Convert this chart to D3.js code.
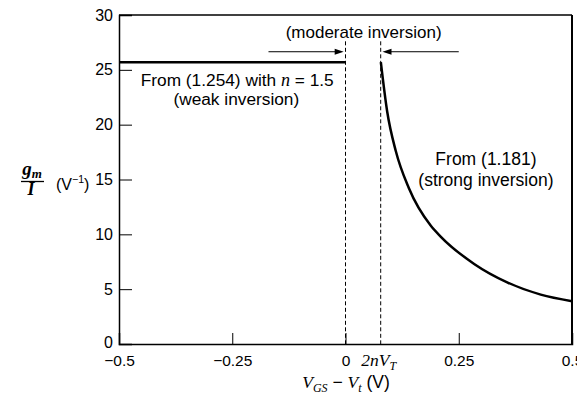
<!DOCTYPE html>
<html>
<head>
<meta charset="utf-8">
<script src="https://cdn.jsdelivr.net/npm/d3@7"></script>
<style>
  html, body { margin: 0; padding: 0; background: #fff; }
  svg { display: block; }
  .sans { font-family: "Liberation Sans", Arial, Helvetica, sans-serif; }
  .math { font-family: "Liberation Serif", "Times New Roman", serif; font-style: italic; }
</style>
</head>
<body>
<svg id="chart" width="577" height="395"></svg>
<script>
// ---- data ----
const xTickValues = [-0.5, -0.25, 0, 0.25, 0.5];
const xTickLabels = ["\u22120.5", "\u22120.25", "0", "0.25", "0.5"];
const yTickValues = [0, 5, 10, 15, 20, 25, 30];
const yTickLabels = ["0", "5", "10", "15", "20", "25", "30"];

// weak inversion (eq. 1.254, n = 1.5): flat
const weakX = [-0.5, 0];
const weakY = [25.7, 25.7];

// strong inversion (eq. 1.181)
const strongX = [0.078, 0.092, 0.111, 0.140, 0.188, 0.210, 0.284, 0.358, 0.431, 0.5];
const strongY = [25.7, 21.2, 17.6, 14.2, 10.8, 9.8, 7.3, 5.6, 4.5, 3.9];

// boundaries of moderate inversion
const boundaryX = [0, 0.0777];   // 0 and 2nV_T
const boundaryTop = 27.6;

// ---- layout ----
const L = 119, R = 572, T = 15, B = 344;

const svg = d3.select("#chart");
const x = d3.scaleLinear().domain([-0.5, 0.5]).range([L, R]);
const y = d3.scaleLinear().domain([0, 30]).range([B, T]);

// frame top & right
svg.append("line").attr("x1", L).attr("x2", R).attr("y1", T).attr("y2", T)
  .attr("stroke", "#000").attr("stroke-width", 1.5);
svg.append("line").attr("x1", R).attr("x2", R).attr("y1", T).attr("y2", B)
  .attr("stroke", "#000").attr("stroke-width", 2);

// y axis
const yAxis = d3.axisLeft(y).tickValues(yTickValues)
  .tickFormat((d, i) => yTickLabels[i]).tickSize(-13).tickPadding(6);
const gy = svg.append("g").attr("transform", `translate(${L},0)`).call(yAxis);
gy.select(".domain").attr("stroke-width", 1.5);
gy.selectAll(".tick line").attr("stroke-width", 1);
gy.selectAll("text").attr("class", "sans").attr("font-size", 16).attr("fill", "#000");
gy.selectAll(".tick").filter(d => d === 0).select("text").attr("dy", "0.22em");

// x axis
const xAxis = d3.axisBottom(x).tickValues(xTickValues)
  .tickFormat((d, i) => xTickLabels[i]).tickSize(-11).tickPadding(11);
const gx = svg.append("g").attr("transform", `translate(0,${B})`).call(xAxis);
gx.select(".domain").attr("stroke-width", 1.5);
gx.selectAll(".tick line").attr("stroke-width", 1);
gx.selectAll("text").attr("class", "sans").attr("font-size", 15.5).attr("fill", "#000");

// 2nV_T tick label
const lab2 = svg.append("text").attr("class", "math")
  .attr("x", x(boundaryX[1]) - 2).attr("y", B + 22)
  .attr("text-anchor", "middle").attr("font-size", 17.5);
lab2.append("tspan").text("2");
lab2.append("tspan").text("nV");
lab2.append("tspan").attr("font-size", 12).attr("dy", 4).text("T");

// dashed boundaries
svg.selectAll(".bnd").data(boundaryX).enter().append("line")
  .attr("class", "bnd")
  .attr("x1", d => x(d)).attr("x2", d => x(d))
  .attr("y1", y(boundaryTop)).attr("y2", B)
  .attr("stroke", "#000").attr("stroke-width", 1)
  .attr("stroke-dasharray", "4,2.5");

// curves
const weakData = weakX.map((d, i) => [d, weakY[i]]);
const strongData = strongX.map((d, i) => [d, strongY[i]]);
const line = d3.line().x(d => x(d[0])).y(d => y(d[1]));
svg.append("path").attr("d", line(weakData))
  .attr("fill", "none").attr("stroke", "#000").attr("stroke-width", 2.5);
svg.append("path").attr("d", line.curve(d3.curveMonotoneX)(strongData))
  .attr("fill", "none").attr("stroke", "#000").attr("stroke-width", 2.5);

// arrows for moderate inversion
const arrowY = 26.65;
function arrow(x0, x1) {
  const px0 = x(x0), px1 = x(x1), py = y(arrowY);
  const dir = Math.sign(px1 - px0);
  svg.append("line").attr("x1", px0).attr("x2", px1 - dir * 6).attr("y1", py).attr("y2", py)
    .attr("stroke", "#000").attr("stroke-width", 1);
  svg.append("path")
    .attr("d", `M${px1},${py} L${px1 - dir * 9},${py - 3} L${px1 - dir * 9},${py + 3} Z`)
    .attr("fill", "#000");
}
arrow(-0.17, boundaryX[0] - 0.004);
arrow(0.25, boundaryX[1] + 0.004);

svg.append("text").attr("class", "sans").attr("font-size", 17)
  .attr("x", x(0.04)).attr("y", y(27.9)).attr("text-anchor", "middle")
  .text("(moderate inversion)");

// weak inversion annotation
const t1 = svg.append("text").attr("class", "sans").attr("font-size", 17.3)
  .attr("x", x(-0.239)).attr("y", y(23.5)).attr("text-anchor", "middle");
t1.append("tspan").text("From (1.254) with ");
t1.append("tspan").attr("class", "math").attr("font-size", 18).text("n");
t1.append("tspan").text(" = 1.5");
svg.append("text").attr("class", "sans").attr("font-size", 17.3)
  .attr("x", x(-0.241)).attr("y", y(21.8)).attr("text-anchor", "middle")
  .text("(weak inversion)");

// strong inversion annotation
svg.append("text").attr("class", "sans").attr("font-size", 17.5)
  .attr("x", x(0.31)).attr("y", y(16.3)).attr("text-anchor", "middle")
  .text("From (1.181)");
svg.append("text").attr("class", "sans").attr("font-size", 17.5)
  .attr("x", x(0.31)).attr("y", y(14.45)).attr("text-anchor", "middle")
  .text("(strong inversion)");

// y label: g_m / I (V^-1)
const fx = 32;
const gm = svg.append("text").attr("class", "math").attr("font-size", 19)
  .attr("font-weight", "bold")
  .attr("x", fx).attr("y", 175).attr("text-anchor", "middle");
gm.append("tspan").text("g");
gm.append("tspan").attr("font-size", 13).attr("dy", 3).text("m");
svg.append("line").attr("x1", 21).attr("x2", 44).attr("y1", 181.5).attr("y2", 181.5)
  .attr("stroke", "#000").attr("stroke-width", 1.3);
svg.append("text").attr("class", "math").attr("font-size", 18).attr("font-weight", "bold")
  .attr("x", fx - 1).attr("y", 195).attr("text-anchor", "middle").text("I");
const vu = svg.append("text").attr("class", "sans").attr("font-size", 16)
  .attr("x", 56).attr("y", 190);
vu.append("tspan").text("(V");
vu.append("tspan").attr("font-size", 10.5).attr("dy", -7).text("\u22121");
vu.append("tspan").attr("dy", 7).text(")");

// x label: V_GS - V_t (V)
const xl = svg.append("text").attr("font-size", 17.5)
  .attr("x", 346).attr("y", 388).attr("text-anchor", "middle");
xl.append("tspan").attr("class", "math").text("V");
xl.append("tspan").attr("class", "math").attr("font-size", 12).attr("dy", 4).text("GS");
xl.append("tspan").attr("class", "sans").attr("dy", -4).text(" \u2212 ");
xl.append("tspan").attr("class", "math").text("V");
xl.append("tspan").attr("class", "math").attr("font-size", 12).attr("dy", 4).text("t");
xl.append("tspan").attr("class", "sans").attr("dy", -4).text(" (V)");
</script>
</body>
</html>
